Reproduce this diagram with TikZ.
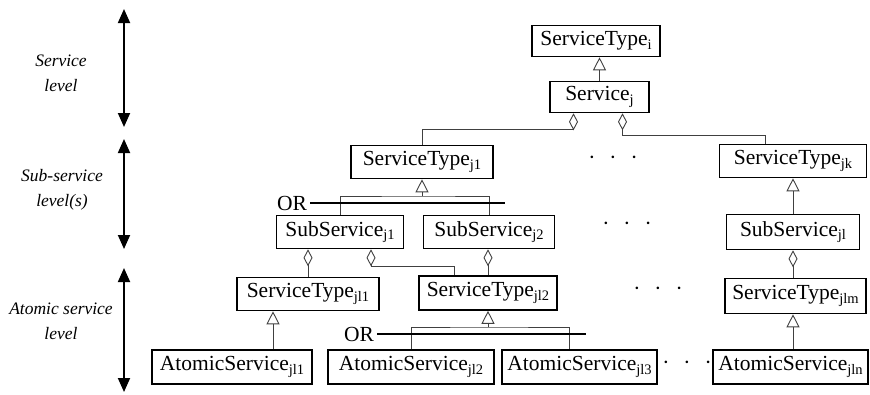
\documentclass[tikz,border=0pt]{standalone}
\usepackage{fontspec}
\setmainfont{Liberation Serif}
\usetikzlibrary{arrows.meta,positioning}
\newcommand{\gapdots}{·\hspace{14pt}·\hspace{14pt}·}
\newcommand{\sbs}[1]{\raisebox{-0.35ex}{\fontsize{14.5}{15}\selectfont #1}}
\tikzset{cls/.style={draw,line width=1.6pt,minimum height=33pt,inner sep=2pt,align=center},
  conn/.style={draw=black!75,line width=0.9pt},
  gen/.style={conn,-{Triangle[open,length=13pt,width=13pt]}},
  agg/.style={conn,{Diamond[open,length=17pt,width=9pt]}-},
  orbar/.style={line width=1.5pt},
  lvl/.style={{Triangle[length=14pt,width=12pt]}-{Triangle[length=14pt,width=12pt]},line width=1.8pt}}

\begin{document}
\begin{tikzpicture}[x=1pt,y=-1pt,font=\fontsize{21.5}{24}\selectfont,
  note/.style={font=\fontsize{17.5}{25}\selectfont\itshape,align=center}]
\useasboundingbox (0,0) rectangle (870,394);
% level arrows on the left
\coordinate (l1t) at (124,9); \coordinate (l1b) at (124,127);
\coordinate (l2t) at (124,139); \coordinate (l2b) at (124,249);
\coordinate (l3t) at (124,268); \coordinate (l3b) at (124,392);
\draw[lvl] (l1t)--(l1b); \draw[lvl] (l2t)--(l2b); \draw[lvl] (l3t)--(l3b);
\node[note] (lab1) at (61,73){Service\\level};
\node[note] (lab2) at (62,190){Sub-service\\level(s)};
\node[note] (lab3) at (61,321){Atomic service\\level};
% classes
\node[cls,minimum width=128pt,minimum height=31pt] (sti) at (596,41){ServiceType\sbs{i}};
\node[cls,minimum width=99pt,minimum height=31pt] (svc) at (599.5,97){Service\sbs{j}};
\node[cls,minimum width=142pt] (stj1) at (422,162){ServiceType\sbs{j1}};
\node[cls,minimum width=147pt] (stjk) at (793,161){ServiceType\sbs{jk}};
\node[cls,minimum width=127pt] (ssj1) at (340,232){SubService\sbs{j1}};
\node[cls,minimum width=131pt] (ssj2) at (489,232){SubService\sbs{j2}};
\node[cls,minimum width=133pt,minimum height=35pt] (ssjl) at (793,232){SubService\sbs{jl}};
\node[cls,minimum width=142pt] (stl1) at (308,294){ServiceType\sbs{jl1}};
\node[cls,minimum width=138pt,minimum height=34pt] (stl2) at (488,293){ServiceType\sbs{jl2}};
\node[cls,minimum width=141pt,minimum height=35pt] (stlm) at (795.5,296){ServiceType\sbs{jlm}};
\node[cls,minimum width=160pt,minimum height=34pt] (as1) at (232,367){AtomicService\sbs{jl1}};
\node[cls,minimum width=166pt,minimum height=34pt] (as2) at (411,367){AtomicService\sbs{jl2}};
\node[cls,minimum width=155pt,minimum height=34pt] (as3) at (579.5,367){AtomicService\sbs{jl3}};
\node[cls,minimum width=155pt,minimum height=34pt] (asn) at (790.5,367){AtomicService\sbs{jln}};
% service level
\draw[gen] (svc.north)--(svc.north |- sti.south);
\draw[agg] ([xshift=-26pt]svc.south) |- ([yshift=15pt]stj1.north)--(stj1.north);
\draw[agg] ([xshift=23pt]svc.south) |- ([xshift=-28pt,yshift=8pt]stjk.north)--([xshift=-28pt]stjk.north);
% sub-service level, OR branch
\coordinate (fk1) at (422,196);
\draw[gen] (fk1)--(stj1.south);
\draw[conn] (ssj1.north) |- (fk1) -| (ssj2.north);
\node (or1) at (292,203){OR}; \coordinate (or1end) at (505,203);
\draw[orbar] (or1.east)--(or1end);
\draw[agg] (stl1.north |- ssj1.south)--(stl1.north);
\draw[agg] ([xshift=31pt]ssj1.south) |- ([xshift=-34pt,yshift=9pt]stl2.north)--([xshift=-34pt]stl2.north);
\draw[agg] (stl2.north |- ssj2.south)--(stl2.north);
% atomic level
\draw[gen] ([xshift=41pt]as1.north)--([xshift=41pt]as1.north |- stl1.south);
\coordinate (fk2) at (488,327);
\draw[gen] (fk2)--(stl2.south);
\draw[conn] (as2.north) |- (fk2) -| ([xshift=-10pt]as3.north);
\node (or2) at (359,334){OR}; \coordinate (or2end) at (586,334);
\draw[orbar] (or2.east)--(or2end);
% right column
\draw[gen] (ssjl.north)--(ssjl.north |- stjk.south);
\draw[agg] (ssjl.south)--(ssjl.south |- stlm.north);
\draw[gen] (ssjl.south |- asn.north)--(ssjl.south |- stlm.south);
% ellipses
\node (dt1) at (613,160){\gapdots};
\node (dt2) at (627,226){\gapdots};
\node (dt3) at (658,291){\gapdots};
\node (dt4) at (687,365){\gapdots};
\end{tikzpicture}
\end{document}
